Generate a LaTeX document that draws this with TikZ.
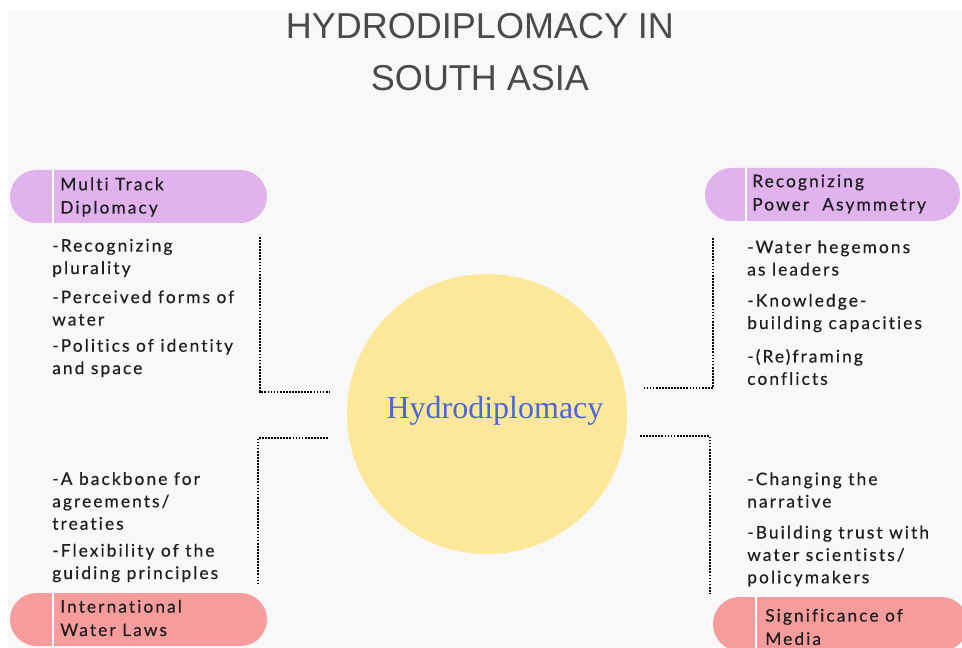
\documentclass[tikz,border=0pt]{standalone}
\usepackage{fontspec}
\setmainfont{Liberation Serif}
\newfontfamily\titlefont{Liberation Sans}
\newfontfamily\bodyfont{Lato}[LetterSpace=12,Ligatures=NoCommon,FakeBold=0.4]
\definecolor{bgc}{HTML}{F8F8F8}
\definecolor{lilac}{HTML}{E0B2EE}
\definecolor{rosy}{HTML}{F79C9C}
\definecolor{sun}{HTML}{FDE89A}
\definecolor{blu}{HTML}{4A66DD}
\definecolor{ttl}{HTML}{4A4A4A}
\definecolor{ink}{HTML}{1E1E1E}
\begin{document}
\begin{tikzpicture}[x=0.75pt,y=-0.75pt,
  pilltext/.style={anchor=west,inner sep=0pt,align=left,text=ink,font=\bodyfont\fontsize{13pt}{17.5pt}\selectfont},
  item/.style={anchor=west,inner sep=0pt,align=left,text=ink,font=\bodyfont\fontsize{13pt}{16.8pt}\selectfont},
  dots/.style={line width=2.1pt,dash pattern=on 1.3pt off 1.0pt,draw=black},
  divider/.style={draw=white,line width=2pt}]
\useasboundingbox (0,0) rectangle (962,648);
\fill[white] (0,0) rectangle (962,648);
\fill[bgc] (8,11) rectangle (962,648);
\begin{scope}
\clip (0,0) rectangle (962,648);
% title
\node[font=\titlefont\fontsize{27pt}{39pt}\selectfont,text=ttl,align=center,inner sep=0pt] (title) at (480,52) {HYDRODIPLOMACY IN\\SOUTH ASIA};
% circle
\node[circle,fill=sun,minimum size=210pt,inner sep=0pt] (hub) at (487,414) {};
\node[text=blu,font=\fontsize{24pt}{28pt}\selectfont,inner sep=0pt] (hubtext) at (495,411) {Hydrodiplomacy};
% pills
\fill[lilac,rounded corners=26.5*0.75pt] (10,170) rectangle (267,223);
\draw[divider] (53,170) -- (53,223);
\fill[lilac,rounded corners=26.5*0.75pt] (705,168) rectangle (960,221);
\draw[divider] (746,168) -- (746,221);
\fill[rosy,rounded corners=26.5*0.75pt] (10,593) rectangle (267,646);
\draw[divider] (53,593) -- (53,646);
\fill[rosy,rounded corners=26.5*0.75pt] (713,597) rectangle (968,651);
\draw[divider] (756,597) -- (756,651);
\node[pilltext] (p1) at (60,197) {Multi Track\\Diplomacy};
\node[pilltext] (p2) at (752,194) {Recognizing\\Power~~Asymmetry};
\node[pilltext] (p3) at (60,618) {International\\Water Laws};
\node[pilltext] (p4) at (765,627) {Significance of\\Media};
% lists
\node[item] (a1) at (52,258) {-Recognizing\\plurality};
\node[item] (a2) at (52,308) {-Perceived forms of\\water};
\node[item] (a3) at (52,358) {-Politics of identity\\and space};
\node[item] (b1) at (747,258) {-Water hegemons\\as leaders};
\node[item] (b2) at (747,313) {-Knowledge-\\building capacities};
\node[item] (b3) at (747,367) {-(Re)framing\\conflicts};
\node[item] (c1) at (52,501) {-A backbone for\\agreements/\\treaties};
\node[item] (c2) at (52,563) {-Flexibility of the\\guiding principles};
\node[item] (d1) at (747,490) {-Changing the\\narrative};
\node[item] (d2) at (747,556) {-Building trust with\\water scientists/\\policymakers};
% connectors
\coordinate (tl1) at (260,237); \coordinate (tl2) at (260,392); \coordinate (tl3) at (330,392);
\coordinate (tr1) at (713,238); \coordinate (tr2) at (713,388); \coordinate (tr3) at (643,388);
\coordinate (bl1) at (328,438); \coordinate (bl2) at (258,438); \coordinate (bl3) at (258,585);
\coordinate (br1) at (640,436); \coordinate (br2) at (710,436); \coordinate (br3) at (710,593);
\draw[dots] (tl1) -- (tl2) -- (tl3);
\draw[dots] (tr1) -- (tr2) -- (tr3);
\draw[dots] (bl1) -- (bl2) -- (bl3);
\draw[dots] (br1) -- (br2) -- (br3);
\end{scope}
\end{tikzpicture}
\end{document}
